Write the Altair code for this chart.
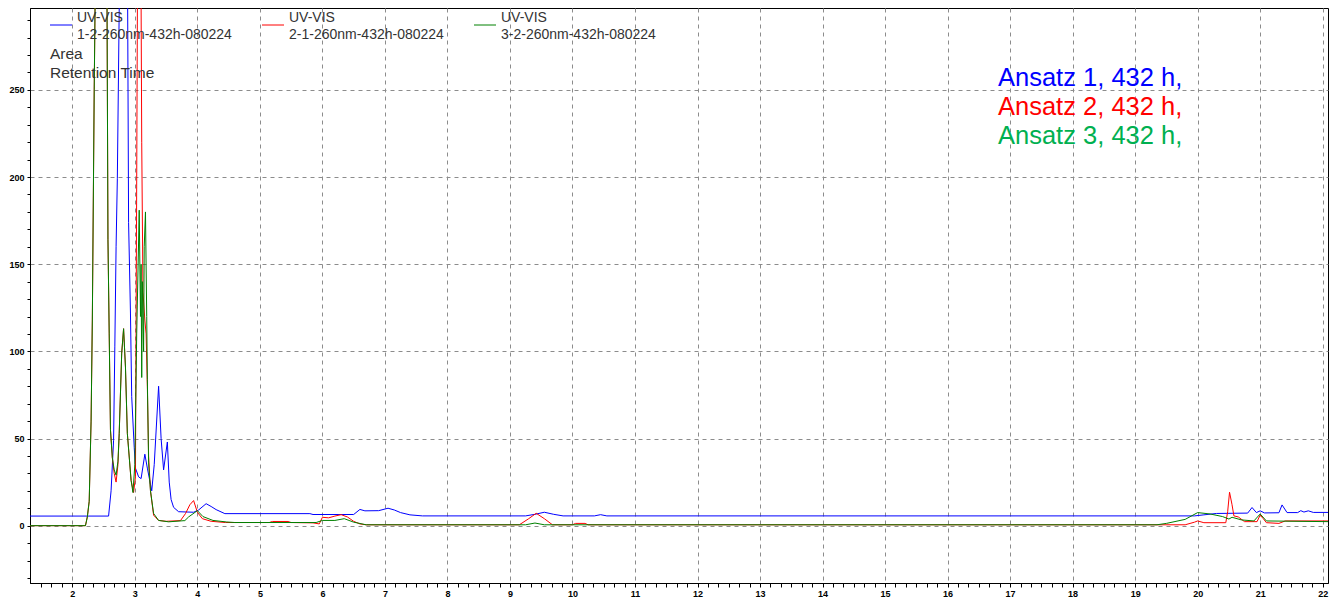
import altair as alt
import pandas as pd

# ---------------- data ----------------
blue_t = [1.32, 2.58, 2.62, 2.66, 2.68, 2.70, 2.72, 2.76, 2.81, 2.86, 2.885, 2.90, 2.93, 2.95, 2.99,
          3.01, 3.06, 3.10, 3.16, 3.20, 3.27, 3.31, 3.38, 3.42, 3.46, 3.52, 3.55, 3.58, 3.62, 3.70,
          3.94, 4.02, 4.14, 4.22, 4.30, 4.44, 5.80, 5.85, 6.50, 6.60, 6.68, 6.90, 7.05, 7.15, 7.25,
          7.40, 7.60, 9.25, 9.40, 9.55, 9.70, 9.85, 10.35, 10.45, 10.55, 19.95, 20.10, 20.30, 20.80,
          20.87, 20.94, 21.00, 21.07, 21.30, 21.35, 21.43, 21.60, 21.65, 21.70, 21.77, 21.85, 22.09]
blue_v = [5.5, 5.5, 20, 49, 103, 160, 199, 330, 420, 330, 300, 174, 122, 74, 45,
          33, 28, 27, 41, 33, 20, 35, 80, 50, 32, 48, 25, 15, 10.5, 8,
          7.7, 9, 12.6, 11, 9.2, 6.9, 6.9, 6.4, 6.4, 9.3, 8.5, 8.6, 10, 9, 7.5,
          6.2, 5.6, 5.6, 6.5, 7.7, 6.5, 5.6, 5.6, 6.3, 5.6, 5.6, 6.2, 7.0, 7.2,
          10.4, 7.5, 8.5, 7.3, 7.4, 11.9, 7.5, 7.5, 8.6, 7.8, 8.5, 7.6, 7.6]

red_t = [1.32, 2.21, 2.24, 2.27, 2.30, 2.32, 2.35, 2.37, 2.45, 2.52, 2.555, 2.57, 2.59, 2.61, 2.64,
         2.67, 2.70, 2.73, 2.75, 2.79, 2.82, 2.85, 2.88, 2.94, 2.98, 3.01, 3.03, 3.05, 3.07, 3.09,
         3.11, 3.13, 3.16, 3.18, 3.20, 3.22, 3.25, 3.30, 3.38, 3.50, 3.73, 3.81, 3.88, 3.94, 4.00,
         4.08, 4.22, 4.45, 5.15, 5.20, 5.45, 5.50, 5.85, 5.95, 6.00, 6.10, 6.20, 6.30, 6.40, 6.50,
         6.60, 6.70, 9.15, 9.30, 9.42, 9.55, 9.68, 10.00, 10.05, 10.20, 10.25, 19.80, 19.95, 20.00,
         20.10, 20.45, 20.48, 20.51, 20.55, 20.58, 20.65, 20.75, 20.95, 21.00, 21.05, 21.10, 21.30,
         21.40, 22.09]
red_v = [0, 0, 5, 14, 60, 118, 250, 320, 500, 420, 300, 164, 110, 55, 39,
         30, 25, 35, 53, 99, 113, 91, 53, 26, 19, 28, 200, 380, 420, 380,
         220, 134, 118, 110, 80, 40, 20, 6, 3, 2.5, 2.9, 6.9, 12, 14.4, 7.7,
         4, 2.5, 1.8, 1.8, 2.4, 2.4, 1.8, 1.6, 1.0, 4.8, 4.5, 5.5, 6.3, 5, 2.5,
         1, 0.5, 0.5, 4, 7.1, 4, 0.5, 0.5, 1.3, 1.3, 0.5, 0.5, 2, 2.7,
         1.7, 1.7, 8, 19.2, 12, 5.6, 5.0, 2.3, 2.3, 6.1, 4, 1.7, 1.3,
         2.7, 2.7]

green_t = [1.32, 2.21, 2.24, 2.27, 2.30, 2.32, 2.35, 2.37, 2.45, 2.52, 2.555, 2.57, 2.59, 2.61, 2.64,
           2.67, 2.70, 2.73, 2.75, 2.79, 2.82, 2.85, 2.88, 2.94, 2.97, 3.00, 3.03, 3.07, 3.09, 3.10,
           3.11, 3.12, 3.14, 3.15, 3.17, 3.19, 3.20, 3.22, 3.25, 3.30, 3.38, 3.54, 3.80, 3.86, 4.00,
           4.09, 4.25, 4.47, 4.60, 5.90, 6.00, 6.20, 6.35, 6.50, 6.70, 9.25, 9.40, 9.55, 19.35, 19.50,
           19.80, 20.00, 20.20, 20.40, 20.50, 20.55, 20.70, 20.90, 21.00, 21.10, 22.09]
green_v = [0, 0, 5, 14, 60, 118, 250, 320, 520, 440, 300, 164, 110, 55, 39,
           32, 29, 37, 53, 99, 113, 91, 53, 26, 19, 35, 110, 181, 120, 150,
           85, 140, 100, 160, 180, 120, 84, 36, 20, 7, 3, 2.2, 2.9, 5, 8.6,
           5.2, 3, 2.1, 1.8, 1.8, 3, 3, 4, 2, 0.5, 0.5, 1.5, 0.5, 0.5, 1.3,
           3.6, 7.5, 6.7, 5.2, 3.8, 4.8, 3.3, 2.7, 6.7, 2.7, 2.3]

series_names = ["1-2-260nm-432h-080224", "2-1-260nm-432h-080224", "3-2-260nm-432h-080224"]
series_colors = ["#0000ff", "#ff0000", "#008000"]
detector = "UV-VIS"
info_lines = ["Area", "Retention Time"]
note_lines = ["Ansatz 1, 432 h,", "Ansatz 2, 432 h,", "Ansatz 3, 432 h,"]
note_colors = ["#0000ff", "#ff0000", "#00b050"]

# ---------------- chart ----------------
W, H = 1298, 575
FONT = "Liberation Sans"

x_ticks = [round(1 + k / 6, 4) for k in range(3, 127)]
y_ticks = list(range(-30, 300, 10))
is_int = "abs(datum.value - round(datum.value)) < 0.001"
is_50 = "datum.value % 50 == 0"

xscale = alt.Scale(domain=[1.323, 22.085], nice=False, zero=False)
yscale = alt.Scale(domain=[-32.9, 297.0], nice=False, zero=False)

xaxis = alt.Axis(values=x_ticks, title=None,
                 labelExpr=f"{is_int} ? format(datum.value, 'd') : ''",
                 labelOverlap=False, labelFlush=False, labelFont=FONT, labelFontSize=9,
                 labelFontWeight="bold", labelColor="#000", labelPadding=2,
                 tickColor="#000", tickSize=4, domainColor="#000",
                 grid=True, gridColor="#8c8c8c", gridDash=[4, 4],
                 gridOpacity={"condition": {"test": is_int, "value": 1}, "value": 0})
yaxis = alt.Axis(values=y_ticks, title=None,
                 labelExpr=f"{is_50} ? datum.label : ''",
                 labelOverlap=False, labelFlush=False, labelFont=FONT, labelFontSize=9,
                 labelFontWeight="bold", labelColor="#000", labelPadding=3,
                 tickColor="#000", tickSize=3, domainColor="#000",
                 grid=True, gridColor="#8c8c8c", gridDash=[4, 4],
                 gridOpacity={"condition": {"test": is_50, "value": 1}, "value": 0})

layers = []
for idx, (ts, vs) in enumerate([(blue_t, blue_v), (red_t, red_v), (green_t, green_v)]):
    d = pd.DataFrame({"t": ts, "v": vs, "i": list(range(len(ts)))})
    layers.append(
        alt.Chart(d).mark_line(strokeWidth=1, clip=True, color=series_colors[idx]).encode(
            x=alt.X("t:Q", scale=xscale, axis=xaxis),
            y=alt.Y("v:Q", scale=yscale, axis=yaxis),
            order="i:Q",
        )
    )


def text_layer(s, x, y, size, color, align="left"):
    return alt.Chart(pd.DataFrame({"s": [s]})).mark_text(
        align=align, baseline="alphabetic", font=FONT, fontSize=size, color=color
    ).encode(x=alt.value(x), y=alt.value(y), text="s:N")


def rule_layer(x1, x2, y, color):
    return alt.Chart(pd.DataFrame({"s": [0]})).mark_rule(color=color, strokeWidth=1).encode(
        x=alt.value(x1), x2=alt.value(x2), y=alt.value(y))


legend_x = [20, 232, 444]
for k in range(3):
    layers.append(rule_layer(legend_x[k], legend_x[k] + 22, 17, series_colors[k]))
    layers.append(text_layer(detector, legend_x[k] + 27, 14, 14, "#333333"))
    layers.append(text_layer(series_names[k], legend_x[k] + 27, 31, 14, "#333333"))

layers.append(text_layer(info_lines[0], 20, 51, 15.5, "#333333"))
layers.append(text_layer(info_lines[1], 20, 70, 15.5, "#333333"))

for k in range(3):
    layers.append(text_layer(note_lines[k], 968, 78 + 29 * k, 25.5, note_colors[k]))

chart = alt.layer(*layers).properties(
    width=W, height=H,
    autosize="none",
    padding={"left": 22, "top": 0, "right": 2, "bottom": 19},
    background="white",
).configure_view(stroke="#000", strokeWidth=1)

chart.save("out.html", embed_options={"renderer": "svg", "actions": False})
